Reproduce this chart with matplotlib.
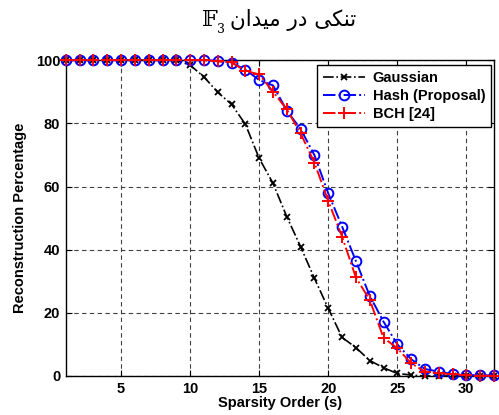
import matplotlib
matplotlib.use("Agg")
import matplotlib.pyplot as plt

# Sparsity order on the x axis
sparsity = list(range(1, 33))

gaussian = [100, 100, 100, 100, 100, 100, 100, 100, 100, 98.4,
            94.7, 89.8, 86.0, 79.7, 68.9, 61.0, 50.4, 40.9, 30.9, 21.4,
            12.2, 9.0, 4.9, 2.6, 0.8, 0.3, 0, 0, 0, 0, 0, 0]
hash_proposal = [100, 100, 100, 100, 100, 100, 100, 100, 100, 100,
                 100, 99.8, 99.2, 97.0, 93.7, 92.0, 84.0, 78.2, 69.9, 57.8,
                 47.3, 36.4, 25.4, 17.2, 10.0, 5.3, 2.2, 1.4, 0.6, 0.3, 0.2, 0.2]
bch = [100, 100, 100, 100, 100, 100, 100, 100, 100, 100,
       100, 99.6, 99.3, 96.6, 95.5, 90.0, 84.4, 76.8, 67.5, 55.4,
       44.1, 31.2, 24.1, 12.1, 8.8, 4.0, 1.4, 0.9, 0.5, 0.2, 0.1, 0.1]

series_names = ["Gaussian", "Hash (Proposal)", "BCH [24]"]
x_ticks = [5, 10, 15, 20, 25, 30]
y_ticks = [0, 20, 40, 60, 80, 100]

# Persian title, pre-shaped (presentation forms) in visual order
title_fa = "\uFEE5\uFE8D\uFEAA\uFEF4\uFEE3 \uFEAD\uFEA9 \uFEF0\uFEDC\uFEE8\uFE97"
field_symbol = "\U0001D53D"
field_index = "3"

plt.rcParams["font.family"] = ["Liberation Sans", "DejaVu Sans"]
plt.rcParams["font.weight"] = "bold"

fig = plt.figure(figsize=(4.99, 4.15), dpi=100)
ax = fig.add_axes([0.132, 0.094, 0.858, 0.761])

ax.plot(sparsity, gaussian, color="black", linestyle="-.", marker="x",
        markersize=4.5, markeredgewidth=1.3, linewidth=1.2, clip_on=False,
        label=series_names[0], zorder=3)
ax.plot(sparsity, hash_proposal, color="blue", linestyle="-.", marker="o",
        markersize=7, markerfacecolor="none", markeredgewidth=1.4,
        linewidth=1.4, clip_on=False, label=series_names[1], zorder=4)
ax.plot(sparsity, bch, color="red", linestyle="-.", marker="+",
        markersize=8.5, markeredgewidth=1.4, linewidth=1.4, clip_on=False,
        label=series_names[2], zorder=5)

ax.set_xlim(1, 32)
ax.set_ylim(0, 100)
ax.set_xticks(x_ticks)
ax.set_yticks(y_ticks)
ax.tick_params(direction="in", top=True, right=True, length=4,
               labelsize=10.5, width=0.8, pad=4)
for lbl in ax.get_xticklabels() + ax.get_yticklabels():
    lbl.set_fontweight("bold")

ax.grid(True, linestyle=(0, (4, 3)), color="#404040", linewidth=0.8)
for sp in ax.spines.values():
    sp.set_linewidth(1.0)

ax.set_xlabel("Sparsity Order (s)", fontsize=10.5, fontweight="bold", labelpad=0)
ax.set_ylabel("Reconstruction Percentage", fontsize=10.5, fontweight="bold", labelpad=6)

leg = ax.legend(loc="upper right", bbox_to_anchor=(0.993, 0.985),
                borderaxespad=0, fancybox=False, edgecolor="black",
                framealpha=1, handlelength=2.9, borderpad=0.4,
                labelspacing=0.3, handletextpad=0.5,
                prop={"weight": "bold", "size": 10.5})
leg.get_frame().set_linewidth(1.0)

# Title: field symbol F_3 on the left, Persian words to its right
fig.text(0.437, 0.952, field_symbol, fontsize=16, ha="right", va="center",
         family=["DejaVu Serif", "DejaVu Sans"], fontweight="normal")
fig.text(0.435, 0.930, field_index, fontsize=9, ha="left", va="center",
         family=["DejaVu Serif"], fontweight="normal")
fig.text(0.46, 0.952, title_fa, fontsize=15.5, ha="left", va="center",
         family=["DejaVu Sans"], fontweight="normal")

fig.savefig("out.png", dpi=100)
